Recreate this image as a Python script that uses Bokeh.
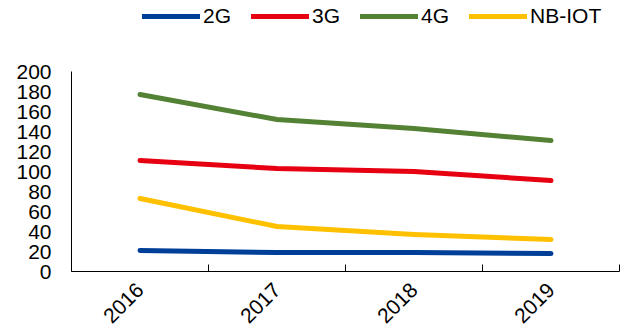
from bokeh.plotting import figure
from bokeh.models import Range1d, FixedTicker, Legend, LegendItem
from bokeh.embed import file_html
from bokeh.resources import INLINE
import math

# Yearly values per network generation
years = ["2016", "2017", "2018", "2019"]
g2 = [21, 19, 19, 18]
g3 = [111, 103, 100, 91]
g4 = [177, 152, 143, 131]
nbiot = [73, 45, 37, 32]
y_ticks = list(range(0, 201, 20))

series = [
    ("2G", g2, "#003F98"),
    ("3G", g3, "#E60012"),
    ("4G", g4, "#548235"),
    ("NB-IOT", nbiot, "#FFC000"),
]

FONT = "Liberation Sans"
FS = "21px"

# the frame reaches the top edge so the legend can sit above the data;
# the y axis line itself stops at 200
p = figure(width=625, height=335, output_backend="svg", toolbar_location=None,
           x_range=Range1d(0, len(years)), y_range=Range1d(0, 271),
           min_border_left=71, min_border_right=6, min_border_top=0,
           min_border_bottom=64)

p.xgrid.visible = False
p.ygrid.visible = False
p.outline_line_color = None
p.background_fill_color = "white"
p.border_fill_color = "white"

# each year sits in the middle of its band
xs = [i + 0.5 for i in range(len(years))]

items = []
for name, vals, color in series:
    r = p.line(xs, vals, line_width=5, line_color=color, line_cap="round",
               line_join="round")
    items.append(LegendItem(label=name, renderers=[r]))

# x axis: labels at band centres, ticks on band boundaries
p.xaxis.ticker = FixedTicker(ticks=xs, minor_ticks=list(range(len(years) + 1)))
p.xaxis.major_label_overrides = {x: y for x, y in zip(xs, years)}
p.xaxis.major_tick_line_color = None
p.xaxis.minor_tick_in = 7
p.xaxis.minor_tick_out = 0
p.xaxis.minor_tick_line_color = "black"
p.xaxis.major_label_orientation = math.pi / 4
p.xaxis.major_label_standoff = 9
p.xaxis.major_label_text_font = FONT
p.xaxis.major_label_text_font_size = FS
p.xaxis.major_label_text_color = "black"
p.xaxis.axis_line_color = "black"

# y axis
p.yaxis.ticker = FixedTicker(ticks=y_ticks)
p.yaxis.bounds = (y_ticks[0], y_ticks[-1])
p.yaxis.major_tick_line_color = None
p.yaxis.minor_tick_line_color = None
p.yaxis.major_label_standoff = 14
p.yaxis.major_label_text_font = FONT
p.yaxis.major_label_text_font_size = FS
p.yaxis.major_label_text_color = "black"
p.yaxis.axis_line_color = "black"

legend = Legend(items=items, orientation="horizontal", location=(71, 243),
                glyph_width=58, glyph_height=20, label_height=20,
                label_standoff=3, spacing=20, padding=0, margin=0,
                border_line_color=None, background_fill_alpha=0,
                label_text_font=FONT, label_text_font_size=FS,
                label_text_color="black")
p.add_layout(legend, "center")

open("out.html", "w").write(file_html(p, INLINE))
